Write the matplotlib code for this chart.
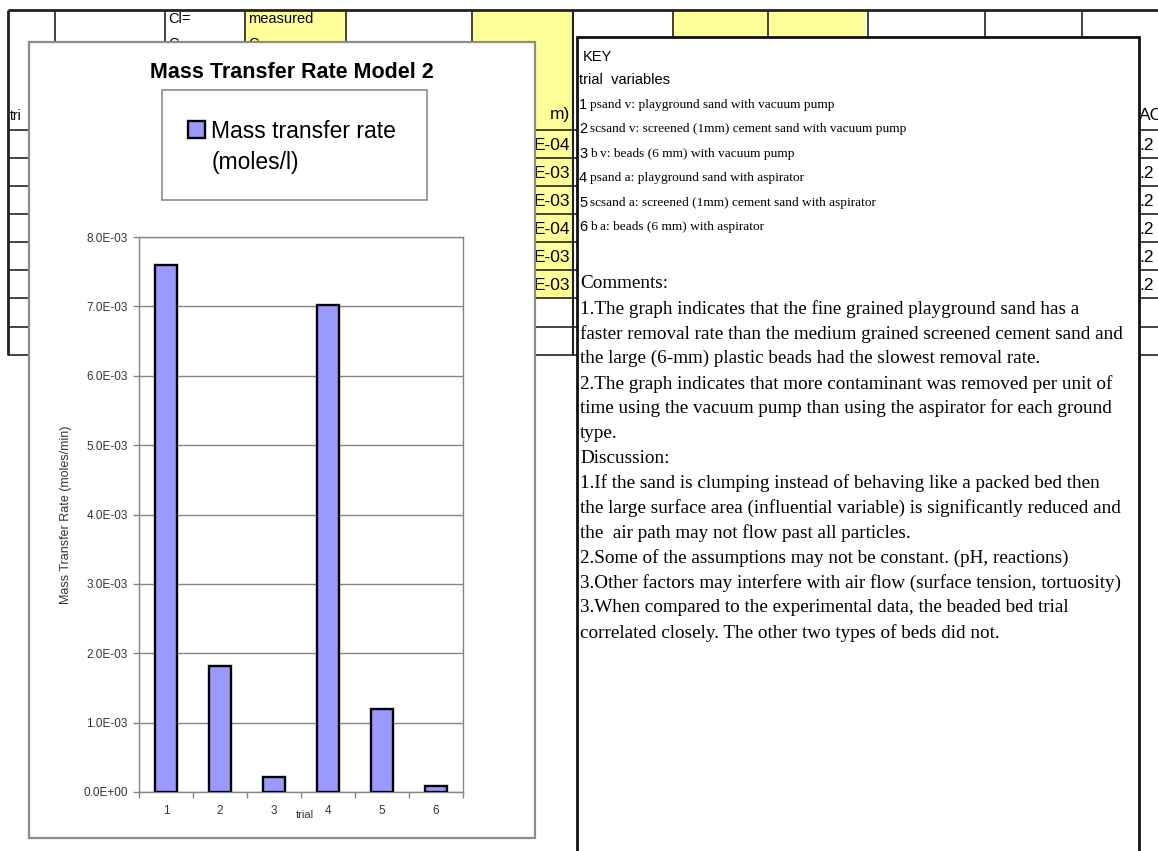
import numpy as np
import matplotlib
matplotlib.use("Agg")
import matplotlib.pyplot as plt
from matplotlib.patches import Rectangle

# ---- chart data ----
trials = ["1", "2", "3", "4", "5", "6"]
rates = [7.6e-3, 1.82e-3, 0.22e-3, 7.02e-3, 1.2e-3, 0.09e-3]
y_ticks = [0.0, 1e-3, 2e-3, 3e-3, 4e-3, 5e-3, 6e-3, 7e-3, 8e-3]

chart_title = "Mass Transfer Rate Model 2"
series_label = "Mass transfer rate"
series_unit = "(moles/l)"
y_label = "Mass Transfer Rate (moles/min)"
x_label = "trial"

# ---- notes panel text ----
key_title = "KEY"
key_subtitle = "trial  variables"
key_numbers = ["1", "2", "3", "4", "5", "6"]
key_items = [
    "psand v: playground sand with vacuum pump",
    "scsand v: screened (1mm) cement sand with vacuum pump",
    "b v: beads (6 mm) with vacuum pump",
    "psand a: playground sand with aspirator",
    "scsand a: screened (1mm) cement sand with aspirator",
    "b a: beads (6 mm) with aspirator",
]
notes = [
    "Comments:",
    "1.The graph indicates that the fine grained playground sand has a",
    "faster removal rate than the medium grained screened cement sand and",
    "the large (6-mm) plastic beads had the slowest removal rate.",
    "2.The graph indicates that more contaminant was removed per unit of",
    "time using the vacuum pump than using the aspirator for each ground",
    "type.",
    "Discussion:",
    "1.If the sand is clumping instead of behaving like a packed bed then",
    "the large surface area (influential variable) is significantly reduced and",
    "the  air path may not flow past all particles.",
    "2.Some of the assumptions may not be constant. (pH, reactions)",
    "3.Other factors may interfere with air flow (surface tension, tortuosity)",
    "3.When compared to the experimental data, the beaded bed trial",
    "correlated closely. The other two types of beds did not.",
]

# ---- spreadsheet cell text ----
left_header = "tri"
col_header = "m)"
col_values = ["E-04", "E-03", "E-03", "E-04", "E-03", "E-03"]
right_header = "AC"
right_values = [".2", ".2", ".2", ".2", ".2", ".2"]

SANS = "Liberation Sans"
SERIF = "Liberation Serif"
GRID = "#868686"
YELLOW = "#ffff99"
BAR = "#9999ff"

W, H = 1158, 851
fig = plt.figure(figsize=(W / 100, H / 100), dpi=100)
fig.patch.set_facecolor("white")

# background layer in pixel units (y grows downward)
bg = fig.add_axes([0, 0, 1, 1])
bg.set_xlim(0, W)
bg.set_ylim(H, 0)
bg.axis("off")


def hline(y, x0, x1, lw=1.2, c="#222222", z=1):
    bg.plot([x0, x1], [y, y], color=c, lw=lw, zorder=z, solid_capstyle="butt")


def vline(x, y0, y1, lw=1.2, c="#222222", z=1):
    bg.plot([x, x], [y0, y1], color=c, lw=lw, zorder=z, solid_capstyle="butt")


# yellow cells
for x0, x1, y0, y1 in [(245, 346, 10, 60), (472, 573, 10, 298),
                       (673, 768, 10, 40), (768, 866, 10, 40)]:
    bg.add_patch(Rectangle((x0, y0), x1 - x0, y1 - y0, facecolor=YELLOW,
                           edgecolor="none", zorder=0.5))

# table lines
hline(10, 8, W, lw=2.0)
row_y = [130, 158, 186, 214, 242, 270, 298, 327, 355]
for y in row_y:
    hline(y, 8, 40)
    hline(y, 530, 580)
    hline(y, 1130, W)
vline(8, 10, 355, lw=2.0)
for x in [55, 165, 245, 346, 472]:
    vline(x, 10, 60)
vline(573, 10, 355, lw=1.5)
for x in [673, 768, 868, 985, 1082]:
    vline(x, 10, 40)

# cell text
bg.text(168, 19, "Cl=", family=SANS, size=10.5, va="center", ha="left", zorder=1)
bg.text(168, 44, "C", family=SANS, size=10.5, va="center", ha="left", zorder=1)
bg.text(248, 19, "measured", family=SANS, size=10.5, va="center", ha="left", zorder=1)
bg.text(248, 44, "C", family=SANS, size=10.5, va="center", ha="left", zorder=1)
bg.text(10, 116, left_header, family=SANS, size=10, va="center", ha="left", zorder=1)
bg.text(570, 115, col_header, family=SANS, size=12.5, va="center", ha="right", zorder=1)
for i, s in enumerate(col_values):
    bg.text(570, (row_y[i] + row_y[i + 1]) / 2 + 1, s, family=SANS, size=12.5,
            va="center", ha="right", zorder=1)
bg.text(1139, 115, right_header, family=SANS, size=12.5, va="center", ha="left", zorder=1)
for i, s in enumerate(right_values):
    bg.text(1139, (row_y[i] + row_y[i + 1]) / 2 + 1, s, family=SANS, size=12.5,
            va="center", ha="left", zorder=1)

# chart panel
bg.add_patch(Rectangle((29, 42), 535 - 29, 838 - 42, facecolor="white",
                       edgecolor="#8c8c8c", lw=1.6, zorder=3))
bg.text(292, 72, chart_title, family=SANS, weight="bold", size=15.5,
        ha="center", va="center", zorder=4)
bg.add_patch(Rectangle((162, 90), 427 - 162, 200 - 90, facecolor="white",
                       edgecolor="#8c8c8c", lw=1.2, zorder=4))
bg.text(212, 162, series_unit, family=SANS, size=16.5, ha="left", va="center", zorder=5)

# notes panel
bg.add_patch(Rectangle((577, 37), 1139 - 577, H + 10 - 37, facecolor="white",
                       edgecolor="#111111", lw=2.0, zorder=3))
bg.text(583, 57, key_title, family=SANS, size=10.5, ha="left", va="center", zorder=4)
bg.text(579, 80, key_subtitle, family=SANS, size=10.5, ha="left", va="center", zorder=4)
for i, (n, s) in enumerate(zip(key_numbers, key_items)):
    y = 105 + i * 24.4
    bg.text(579, y, n, family=SANS, size=10.5, ha="left", va="center", zorder=4)
    bg.text(590, y, s, family=SERIF, size=9.6, ha="left", va="center", zorder=4)
for i, s in enumerate(notes):
    bg.text(580, 284 + i * 24.9, s, family=SERIF, size=13.8, ha="left",
            va="center", zorder=4)

# bar chart
px0, px1, py0, py1 = 139, 463, 237, 792
ax = fig.add_axes([px0 / W, 1 - py1 / H, (px1 - px0) / W, (py1 - py0) / H])
ax.set_zorder(5)
x = np.arange(1, len(trials) + 1)
ax.bar(x, rates, width=0.41, color=BAR, edgecolor="black", linewidth=1.7,
       zorder=3, label=series_label)
ax.set_xlim(0.5, len(trials) + 0.5)
ax.set_ylim(0, 8e-3)
ax.set_yticks(y_ticks)
ax.set_yticklabels([f"{v:.1E}" for v in y_ticks])
ax.set_xticks(x)
ax.set_xticklabels(trials)
ax.set_xticks(np.arange(0.5, len(trials) + 1), minor=True)
ax.tick_params(axis="x", which="major", length=0, pad=9, labelsize=8.5,
               labelcolor="#333333")
ax.tick_params(axis="x", which="minor", length=4, width=1, color=GRID,
               direction="out")
ax.tick_params(axis="y", length=4, width=1, color=GRID, pad=4, labelsize=8.5,
               labelcolor="#333333")
for lab in ax.get_xticklabels() + ax.get_yticklabels():
    lab.set_family(SANS)
ax.grid(axis="y", color=GRID, lw=1, zorder=0)
for sp in ax.spines.values():
    sp.set_color(GRID)
    sp.set_linewidth(1)
ax.set_ylabel(y_label, family=SANS, size=9, color="#333333")
ax.yaxis.set_label_coords((72 - px0) / (px1 - px0), 0.5)
ax.set_xlabel(x_label, family=SANS, size=8, color="#333333")
ax.xaxis.set_label_coords((305 - px0) / (px1 - px0), (py1 - 810) / (py1 - py0))

leg = ax.legend(loc="center left", bbox_to_anchor=(188 / W, 1 - 131 / H),
                bbox_transform=fig.transFigure, frameon=False, borderpad=0,
                borderaxespad=0, handlelength=0.72, handleheight=0.72,
                handletextpad=0.3, prop={"family": SANS, "size": 16.5})

fig.savefig("out.png", dpi=100)
